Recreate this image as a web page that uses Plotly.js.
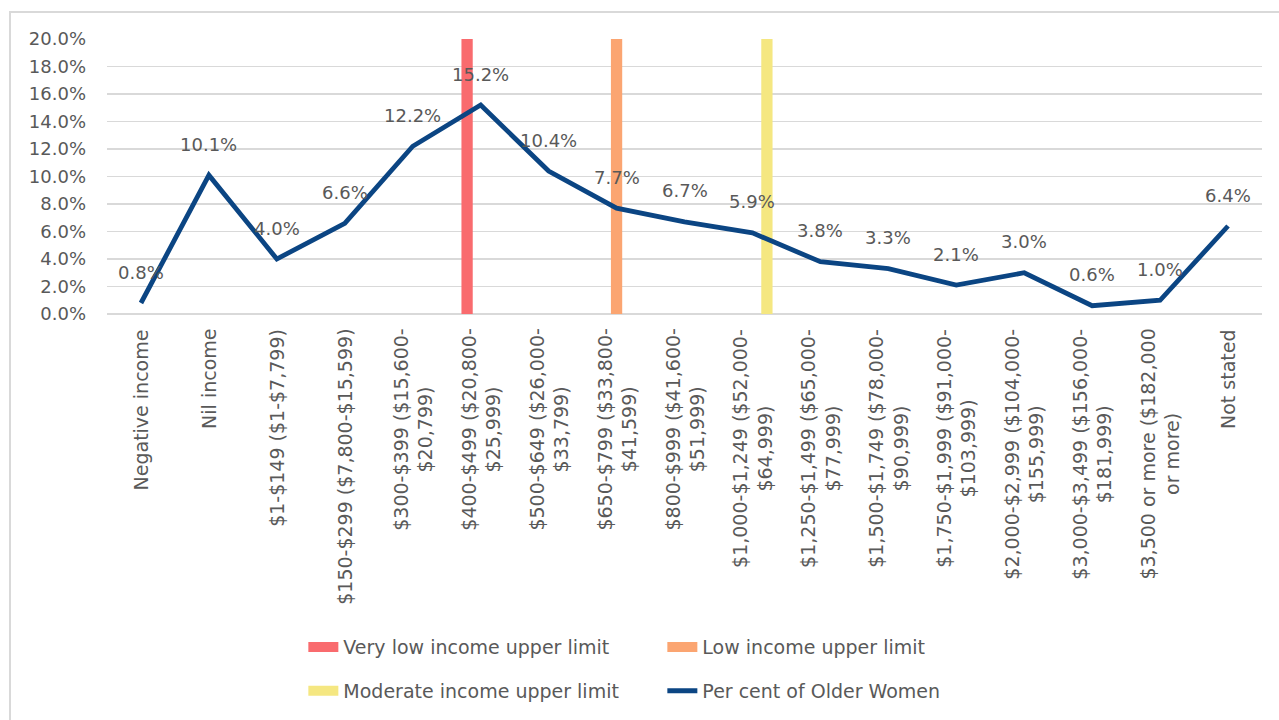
<!DOCTYPE html>
<html>
<head>
<meta charset="utf-8">
<script src="https://cdn.plot.ly/plotly-3.0.1.min.js"></script>
<style>
  html, body { margin: 0; padding: 0; background: #ffffff; }
  #wrap { position: relative; width: 1279px; height: 720px; overflow: hidden; }
  #chart { position: absolute; left: 0; top: 0; width: 1279px; height: 720px; }
  #frame { position: absolute; left: 9px; top: 11px; width: 1300px; height: 800px;
           border: 2px solid #d9d9d9; box-sizing: border-box; pointer-events: none; }
</style>
</head>
<body>
<div id="wrap">
  <div id="chart"></div>
  <div id="frame"></div>
</div>
<script>
// ---- data ----
const categories = [
  "Negative income", "Nil income", "$1-$149 ($1-$7,799)", "$150-$299 ($7,800-$15,599)",
  "$300-$399 ($15,600-$20,799)", "$400-$499 ($20,800-$25,999)", "$500-$649 ($26,000-$33,799)",
  "$650-$799 ($33,800-$41,599)", "$800-$999 ($41,600-$51,999)", "$1,000-$1,249 ($52,000-$64,999)",
  "$1,250-$1,499 ($65,000-$77,999)", "$1,500-$1,749 ($78,000-$90,999)", "$1,750-$1,999 ($91,000-$103,999)",
  "$2,000-$2,999 ($104,000-$155,999)", "$3,000-$3,499 ($156,000-$181,999)",
  "$3,500 or more ($182,000 or more)", "Not stated"
];
// tick labels as wrapped lines
const tickLines = [
  ["Negative income"], ["Nil income"], ["$1-$149 ($1-$7,799)"], ["$150-$299 ($7,800-$15,599)"],
  ["$300-$399 ($15,600-", "$20,799)"], ["$400-$499 ($20,800-", "$25,999)"], ["$500-$649 ($26,000-", "$33,799)"],
  ["$650-$799 ($33,800-", "$41,599)"], ["$800-$999 ($41,600-", "$51,999)"], ["$1,000-$1,249 ($52,000-", "$64,999)"],
  ["$1,250-$1,499 ($65,000-", "$77,999)"], ["$1,500-$1,749 ($78,000-", "$90,999)"], ["$1,750-$1,999 ($91,000-", "$103,999)"],
  ["$2,000-$2,999 ($104,000-", "$155,999)"], ["$3,000-$3,499 ($156,000-", "$181,999)"],
  ["$3,500 or more ($182,000", "or more)"], ["Not stated"]
];
const perCentOlderWomen = [0.008, 0.101, 0.040, 0.066, 0.122, 0.152, 0.104, 0.077, 0.067, 0.059,
                           0.038, 0.033, 0.021, 0.030, 0.006, 0.010, 0.064];
const limitNames = ["Very low income upper limit", "Low income upper limit", "Moderate income upper limit"];
const limitCategories = ["$400-$499 ($20,800-$25,999)", "$650-$799 ($33,800-$41,599)", "$1,000-$1,249 ($52,000-$64,999)"];
const limitValues = [0.20, 0.20, 0.20];
const lineName = "Per cent of Older Women";
const yTickValues = [0, 0.02, 0.04, 0.06, 0.08, 0.10, 0.12, 0.14, 0.16, 0.18, 0.20];

// ---- styles ----
const limitColors = ["#f96b6e", "#fba571", "#f5e781"];
const limitOffsets = [-0.283, -0.083, 0.130];   // clustered-bar slot positions (category units)
const limitWidth = 0.166;
const lineColor = "#0b4583";
const textGray = "#595959";
const FONT = "DejaVu Sans, Liberation Sans, sans-serif";
const TICK_SIZE = 19;

const tickText = tickLines.map(lines => lines.join("<br>"));

const traces = [];
limitNames.forEach((n, i) => {
  traces.push({
    type: "bar", name: n, x: [limitCategories[i]], y: [limitValues[i]],
    width: limitWidth, offset: limitOffsets[i],
    marker: { color: limitColors[i], line: { width: 0 } }, showlegend: false, hoverinfo: "skip"
  });
});
traces.push({
  type: "scatter", mode: "lines", name: lineName, x: categories, y: perCentOlderWomen,
  line: { color: lineColor, width: 4.8, shape: "linear" }, showlegend: false
});
// legend entries (no data, swatches only)
limitNames.forEach((n, i) => {
  traces.push({
    type: "scatter", mode: "lines", name: n, x: [null], y: [null],
    line: { color: limitColors[i], width: 11 }, legend: i < 2 ? "legend" : "legend2"
  });
});
traces.push({
  type: "scatter", mode: "lines", name: lineName, x: [null], y: [null],
  line: { color: lineColor, width: 4.8 }, legend: "legend2"
});

// data labels above each point
const valueLabels = categories.map((c, i) => ({
  x: c, y: perCentOlderWomen[i], xref: "x", yref: "y",
  text: (perCentOlderWomen[i] * 100).toFixed(1) + "%",
  showarrow: false, yshift: 31,
  font: { family: FONT, size: 18, color: textGray }
}));
// rotated category labels, wrapped lines centred on each other (as in the original)
const categoryLabels = categories.map((c, i) => ({
  x: c, xref: "x", y: 0, yref: "paper",
  text: tickText[i], textangle: -90, align: "center",
  xanchor: "center", yanchor: "top", yshift: -13, showarrow: false,
  font: { family: FONT, size: TICK_SIZE, color: textGray }
}));

const legendCommon = {
  orientation: "h", xanchor: "left", yanchor: "middle", x: 0.17,
  font: { family: FONT, size: 19, color: textGray },
  entrywidth: 314, entrywidthmode: "pixels", bgcolor: "rgba(0,0,0,0)", traceorder: "normal"
};

const layout = {
  width: 1279, height: 720,
  margin: { l: 107, r: 17, t: 39, b: 405, pad: 0 },
  paper_bgcolor: "#ffffff", plot_bgcolor: "#ffffff",
  font: { family: FONT, color: textGray },
  barmode: "overlay",
  showlegend: true,
  legend: Object.assign({}, legendCommon, { y: -1.203 }),
  legend2: Object.assign({}, legendCommon, { y: -1.362 }),
  xaxis: {
    type: "category", categoryorder: "array", categoryarray: categories,
    range: [-0.5, categories.length - 0.5], automargin: false,
    showticklabels: false, ticks: "", showgrid: false, showline: false, zeroline: false
  },
  yaxis: {
    range: [0, 0.2], tickvals: yTickValues, tickformat: ".1%", automargin: false,
    showgrid: true, gridcolor: "#d9d9d9", gridwidth: 1.5,
    zeroline: true, zerolinecolor: "#d9d9d9", zerolinewidth: 1.5,
    showline: false, ticks: "", ticklabelstandoff: 20,
    tickfont: { family: FONT, size: 18, color: textGray }
  },
  annotations: valueLabels.concat(categoryLabels)
};

Plotly.newPlot("chart", traces, layout, { staticPlot: true, displayModeBar: false });
</script>
</body>
</html>
